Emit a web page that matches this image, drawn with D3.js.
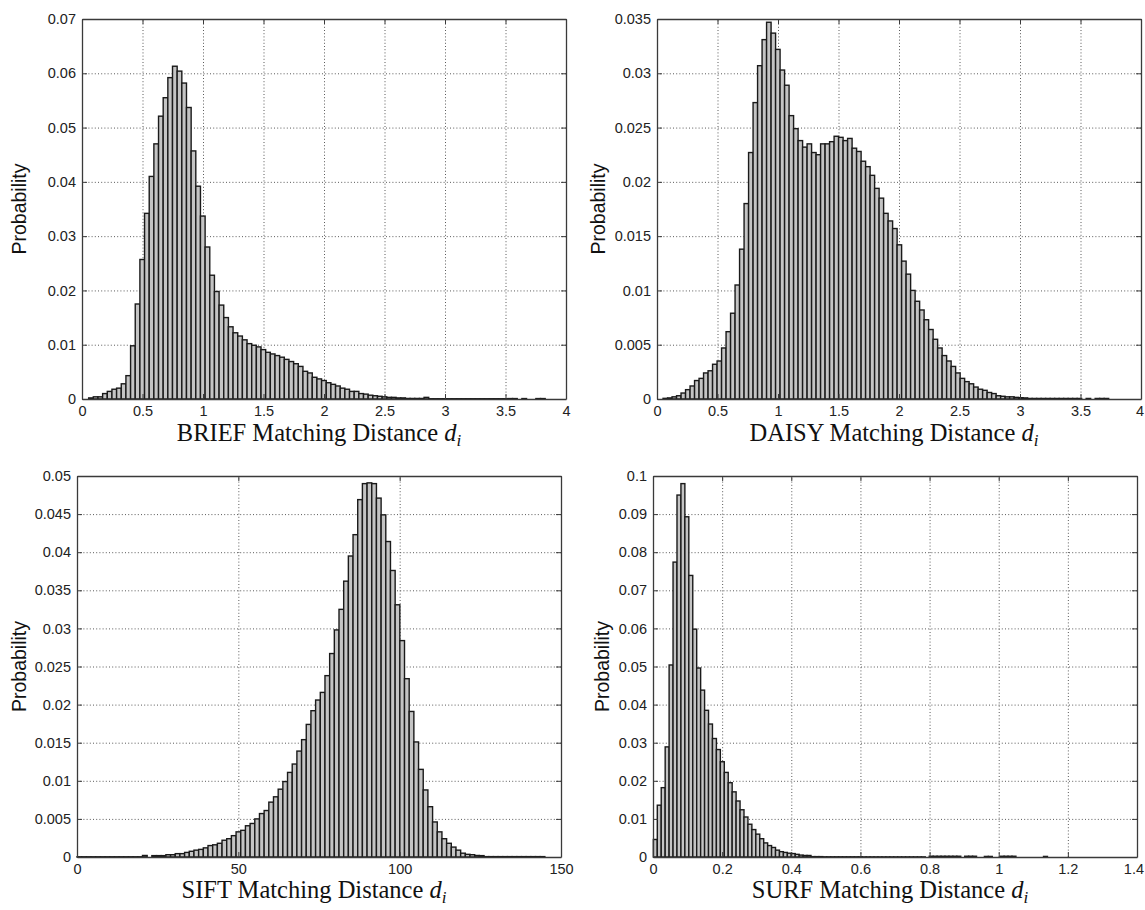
<!DOCTYPE html>
<html>
<head>
<meta charset="utf-8">
<script src="https://cdn.jsdelivr.net/npm/d3@7"></script>
<style>
  body { margin: 0; background: #fff; }
  svg { display: block; }
  .tick text { font-family: "Liberation Sans", Arial, Helvetica, sans-serif; font-size: 14.5px; fill: #222; }
</style>
</head>
<body>
<svg id="fig" width="1145" height="910"></svg>
<script>
// ---- Histogram data: probability per bin, bins of equal width ----

// BRIEF descriptor matching distances
const briefStart = 0.055;
const briefBinWidth = 0.0385;
const briefProb = [
  0.0002, 0.0004, 0.0004, 0.0010, 0.0014, 0.0018, 0.0020, 0.0028, 0.0043, 0.0098,
  0.0175, 0.0257, 0.0342, 0.0410, 0.0470, 0.0521, 0.0555, 0.0592, 0.0613, 0.0604,
  0.0582, 0.0537, 0.0457, 0.0392, 0.0337, 0.0280, 0.0228, 0.0198, 0.0173, 0.0150,
  0.0133, 0.0122, 0.0116, 0.0109, 0.0102, 0.0099, 0.0096, 0.0091, 0.0086, 0.0083,
  0.0080, 0.0077, 0.0073, 0.0069, 0.0065, 0.0060, 0.0051, 0.0048, 0.0040, 0.0037,
  0.0034, 0.0030, 0.0027, 0.0024, 0.0020, 0.0018, 0.0014, 0.0014, 0.0010, 0.0009,
  0.0007, 0.0006, 0.0005, 0.0004, 0.0003, 0.0003, 0.0002, 0.0002, 0.0001, 0.0001,
  0.0001, 0.0001, 0.0003, 0.00005, 0.00005, 0.00005, 0.00005, 0.00005, 0.00005, 0.00005,
  0.00005, 0.00005, 0.00005, 0.00005, 0.00005, 0.00005, 0.00005, 0.00005, 0.00005, 0.00005,
  0.00008, 0.00008, 0, 0.00008, 0, 0, 0.00008, 0.00008
];
const briefXTicks = [0, 0.5, 1, 1.5, 2, 2.5, 3, 3.5, 4];
const briefYTicks = [0, 0.01, 0.02, 0.03, 0.04, 0.05, 0.06, 0.07];

// DAISY descriptor matching distances
const daisyStart = 0.05;
const daisyBinWidth = 0.0372;
const daisyProb = [
  0.00006, 0.0001, 0.0002, 0.0003, 0.00055, 0.00086, 0.0012, 0.0017, 0.0019, 0.0024,
  0.0026, 0.0032, 0.0035, 0.0047, 0.0062, 0.0079, 0.0105, 0.0138, 0.0180, 0.0227,
  0.0273, 0.0307, 0.0331, 0.0347, 0.0337, 0.0322, 0.0303, 0.0289, 0.0261, 0.0249,
  0.0238, 0.0232, 0.0235, 0.0227, 0.0225, 0.0235, 0.0235, 0.0237, 0.0242, 0.0241,
  0.0238, 0.0240, 0.0231, 0.0228, 0.0219, 0.0214, 0.0206, 0.0194, 0.0185, 0.0171,
  0.0164, 0.0157, 0.0142, 0.0127, 0.0115, 0.0100, 0.0090, 0.0082, 0.0073, 0.0064,
  0.0055, 0.0047, 0.0040, 0.0035, 0.0030, 0.0024, 0.0019, 0.0016, 0.0014, 0.0011,
  0.0009, 0.0008, 0.0006, 0.0005, 0.0003, 0.00025, 0.0002, 0.0002, 0.00015, 0.00012,
  0.0001, 0.00005, 0.00005, 0.00005, 0.00005, 0.00005, 0.00005, 0.00005, 0.00005, 0.00005,
  0.00005, 0.00005, 0.00005, 0, 0.00005, 0, 0.00005, 0.00005, 0.00005
];
const daisyXTicks = [0, 0.5, 1, 1.5, 2, 2.5, 3, 3.5, 4];
const daisyYTicks = [0, 0.005, 0.01, 0.015, 0.02, 0.025, 0.03, 0.035];

// SIFT descriptor matching distances
const siftStart = 0;
const siftBinWidth = 1.45;
const siftProb = [
  0.00003, 0.00003, 0.00003, 0.00003, 0.00003, 0.00003, 0.00003, 0.00003, 0.00003, 0.00003,
  0.00003, 0.00003, 0.00003, 0.00003, 0.0002, 0, 0.00018, 0.00018, 0.00018, 0.0003,
  0.0003, 0.00044, 0.00044, 0.0006, 0.00075, 0.0009, 0.0010, 0.0012, 0.0015, 0.0016,
  0.0018, 0.0022, 0.0024, 0.0028, 0.0033, 0.0035, 0.0041, 0.0044, 0.0050, 0.0057,
  0.0061, 0.0072, 0.0079, 0.0089, 0.0099, 0.0111, 0.0122, 0.0139, 0.0154, 0.0174,
  0.0192, 0.0206, 0.0216, 0.0238, 0.0267, 0.0298, 0.0325, 0.0362, 0.0395, 0.0423,
  0.0469, 0.0490, 0.0491, 0.0490, 0.0471, 0.0449, 0.0414, 0.0376, 0.0331, 0.0284,
  0.0234, 0.0191, 0.0151, 0.0115, 0.0088, 0.0066, 0.0046, 0.0033, 0.0024, 0.0018,
  0.0013, 0.0009, 0.0005, 0.00035, 0.0003, 0.0002, 0.00018, 0.00005, 0.00005, 0.00005,
  0.00005, 0.00005, 0.00005, 0.00005, 0.00005, 0.00005, 0.00005, 0.00005, 0.00005, 0.00005
];
const siftXTicks = [0, 50, 100, 150];
const siftYTicks = [0, 0.005, 0.01, 0.015, 0.02, 0.025, 0.03, 0.035, 0.04, 0.045, 0.05];

// SURF descriptor matching distances
const surfStart = 0.001;
const surfBinWidth = 0.0114;
const surfProb = [
  0.0046, 0.0136, 0.0182, 0.0289, 0.0504, 0.0774, 0.0950, 0.0980, 0.0893, 0.0739,
  0.0598, 0.0496, 0.0438, 0.0385, 0.0349, 0.0311, 0.0282, 0.0250, 0.0222, 0.0195,
  0.0171, 0.0147, 0.0124, 0.0105, 0.0086, 0.0072, 0.0060, 0.0048, 0.0037, 0.0030,
  0.0025, 0.0018, 0.0014, 0.0012, 0.0010, 0.0009, 0.0007, 0.0005, 0.0004, 0.0004,
  0.0001, 0.0001, 0.0001, 0.00005, 0.00005, 0.00005, 0.00005, 0.00005, 0.00005, 0.00005,
  0.00005, 0.00005, 0.00005, 0.00003, 0.00003, 0.00003, 0.00003, 0.00003, 0.00003, 0.00003,
  0.00003, 0.00003, 0.00003, 0.00003, 0.00003, 0.00003, 0.00003, 0.00003, 0.00003, 0,
  0.0002, 0.0002, 0.0002, 0.0002, 0.0002, 0.0002, 0.0002, 0.0002, 0, 0.0002,
  0.0002, 0.0002, 0, 0, 0.00015, 0.00015, 0, 0, 0.0002, 0.0002,
  0.0002, 0.0002, 0, 0, 0, 0, 0, 0, 0, 0.00015
];
const surfXTicks = [0, 0.2, 0.4, 0.6, 0.8, 1, 1.2, 1.4];
const surfYTicks = [0, 0.01, 0.02, 0.03, 0.04, 0.05, 0.06, 0.07, 0.08, 0.09, 0.1];

const descriptorNames = ["BRIEF", "DAISY", "SIFT", "SURF"];

// ---- Layout of the 2x2 grid of axes ----
const panels = [
  { name: descriptorNames[0], prob: briefProb, start: briefStart, bw: briefBinWidth,
    xTicks: briefXTicks, yTicks: briefYTicks, L: 82, T: 19, R: 566, B: 399, ylabX: 26, titleY: 441 },
  { name: descriptorNames[1], prob: daisyProb, start: daisyStart, bw: daisyBinWidth,
    xTicks: daisyXTicks, yTicks: daisyYTicks, L: 657, T: 19, R: 1141, B: 399, ylabX: 605, titleY: 441 },
  { name: descriptorNames[2], prob: siftProb, start: siftStart, bw: siftBinWidth,
    xTicks: siftXTicks, yTicks: siftYTicks, L: 77, T: 476, R: 561, B: 857, ylabX: 26, titleY: 898 },
  { name: descriptorNames[3], prob: surfProb, start: surfStart, bw: surfBinWidth,
    xTicks: surfXTicks, yTicks: surfYTicks, L: 653, T: 476, R: 1137, B: 857, ylabX: 609, titleY: 898 }
];

const fmt = v => (v === 0 ? "0" : String(+v.toFixed(4)));
const svg = d3.select("#fig");
svg.append("rect").attr("width", 1145).attr("height", 910).attr("fill", "#fff");

panels.forEach(p => {
  const x = d3.scaleLinear().domain([p.xTicks[0], p.xTicks[p.xTicks.length - 1]]).range([p.L, p.R]);
  const y = d3.scaleLinear().domain([0, p.yTicks[p.yTicks.length - 1]]).range([p.B, p.T]);
  const g = svg.append("g");
  const h = p.B - p.T, w = p.R - p.L;

  // dotted grid
  const grid = g.append("g").attr("class", "grid");
  grid.append("g").attr("transform", `translate(0,${p.B})`)
    .call(d3.axisBottom(x).tickValues(p.xTicks).tickSize(-h).tickFormat(""));
  grid.append("g").attr("transform", `translate(${p.L},0)`)
    .call(d3.axisLeft(y).tickValues(p.yTicks).tickSize(-w).tickFormat(""));
  grid.selectAll(".domain").remove();
  grid.selectAll("line")
    .attr("stroke", "#5a5a5a").attr("stroke-width", 1).attr("stroke-dasharray", "1,2.2");

  // histogram bars
  const bins = p.prob.map((v, i) => ({ x0: p.start + i * p.bw, x1: p.start + (i + 1) * p.bw, v }))
    .filter(d => d.v > 0);
  g.append("g").selectAll("rect").data(bins).join("rect")
    .attr("x", d => x(d.x0))
    .attr("width", d => x(d.x1) - x(d.x0))
    .attr("y", d => y(d.v))
    .attr("height", d => p.B - y(d.v))
    .attr("fill", "#c4c4c4")
    .attr("stroke", "#1a1a1a")
    .attr("stroke-width", 1.4);

  // box axes with inward ticks
  const styleAxis = sel => {
    sel.selectAll(".domain").attr("stroke", "#3a3a3a").attr("stroke-width", 1.3);
    sel.selectAll(".tick line").attr("stroke", "#3a3a3a").attr("stroke-width", 1);
  };
  const bottom = g.append("g").attr("transform", `translate(0,${p.B})`)
    .call(d3.axisBottom(x).tickValues(p.xTicks).tickSize(-5).tickSizeOuter(0).tickPadding(7).tickFormat(fmt))
    .call(styleAxis);
  // keep the rightmost label inside the figure edge
  bottom.selectAll(".tick text")
    .attr("dx", function () {
      const bb = this.getBBox();
      const tick = this.parentNode.transform.baseVal.consolidate();
      const tx = tick ? tick.matrix.e : 0;
      const overflow = tx + bb.x + bb.width - 1144;
      return overflow > 0 ? -overflow : 0;
    });
  g.append("g").attr("transform", `translate(${p.L},0)`)
    .call(d3.axisLeft(y).tickValues(p.yTicks).tickSize(-5).tickSizeOuter(0).tickPadding(6).tickFormat(fmt))
    .call(styleAxis);
  g.append("g").attr("transform", `translate(0,${p.T})`)
    .call(d3.axisTop(x).tickValues(p.xTicks).tickSize(-5).tickSizeOuter(0).tickFormat(""))
    .call(styleAxis);
  g.append("g").attr("transform", `translate(${p.R},0)`)
    .call(d3.axisRight(y).tickValues(p.yTicks).tickSize(-5).tickSizeOuter(0).tickFormat(""))
    .call(styleAxis);
  g.selectAll(".tick text").attr("fill", "#222");

  // y-axis label
  g.append("text")
    .attr("transform", `translate(${p.ylabX},${(p.T + p.B) / 2}) rotate(-90)`)
    .attr("text-anchor", "middle")
    .attr("font-family", "Liberation Sans, Arial, Helvetica, sans-serif")
    .attr("font-size", 19.5)
    .attr("fill", "#111")
    .text("Probability");

  // x-axis title with math subscript
  const t = g.append("text")
    .attr("x", (p.L + p.R) / 2 - 5)
    .attr("y", p.titleY)
    .attr("text-anchor", "middle")
    .attr("font-family", "Liberation Serif, 'Times New Roman', Times, serif")
    .attr("font-size", 24.5)
    .attr("fill", "#111");
  t.append("tspan").text(`${p.name} Matching Distance `);
  t.append("tspan").attr("font-style", "italic").text("d");
  t.append("tspan").attr("font-style", "italic").attr("font-size", 17).attr("dy", 5).text("i");
});
</script>
</body>
</html>
